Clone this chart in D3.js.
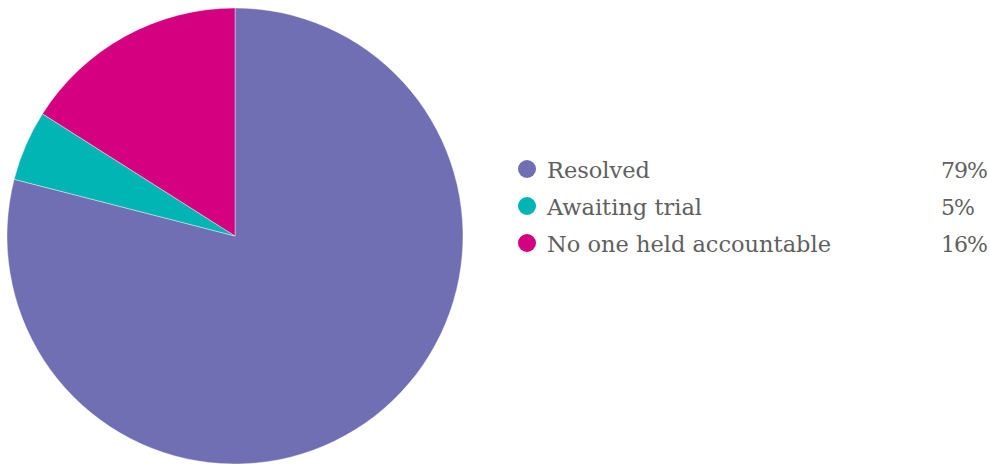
<!DOCTYPE html>
<html>
<head>
<meta charset="utf-8">
<script src="https://cdn.jsdelivr.net/npm/d3@7"></script>
<style>
  html, body { margin: 0; padding: 0; background: #fff; }
  svg { display: block; }
</style>
</head>
<body>
<svg id="chart" width="990" height="466"></svg>
<script>
// Outcome shares
const categories = ["Resolved", "Awaiting trial", "No one held accountable"];
const values = [79, 5, 16];
const labels = ["79%", "5%", "16%"];
const colors = ["#716fb3", "#00b5b3", "#d5007f"];

const svg = d3.select("#chart");
const fontFamily = "'DejaVu Serif', 'Liberation Serif', serif";

const cx = 235, cy = 236, radius = 228;

const pie = d3.pie().sort(null).value(d => d.value);
const arc = d3.arc().innerRadius(0).outerRadius(radius);
const color = d3.scaleOrdinal().domain(categories).range(colors);

const data = categories.map((c, i) => ({ name: c, value: values[i], label: labels[i] }));

const g = svg.append("g").attr("transform", `translate(${cx},${cy})`);
g.selectAll("path")
  .data(pie(data))
  .join("path")
  .attr("d", arc)
  .attr("fill", d => color(d.data.name))
  .attr("stroke", "#fff")
  .attr("stroke-width", 0.4);

// Legend
const rowY = d3.scalePoint().domain(categories).range([169, 243]);
const legend = svg.append("g");
const rows = legend.selectAll("g")
  .data(data)
  .join("g")
  .attr("transform", d => `translate(0,${rowY(d.name)})`);

rows.append("circle")
  .attr("cx", 527)
  .attr("cy", 0)
  .attr("r", 9)
  .attr("fill", d => color(d.name));

rows.append("text")
  .attr("x", 547)
  .attr("y", 9)
  .attr("font-family", fontFamily)
  .attr("font-size", 22.5)
  .attr("fill", "#5f5f61")
  .text(d => d.name);

rows.append("text")
  .attr("x", 941)
  .attr("y", 9)
  .attr("font-family", fontFamily)
  .attr("font-size", 22)
  .attr("letter-spacing", -1)
  .attr("fill", "#5f5f61")
  .text(d => d.label);
</script>
</body>
</html>
